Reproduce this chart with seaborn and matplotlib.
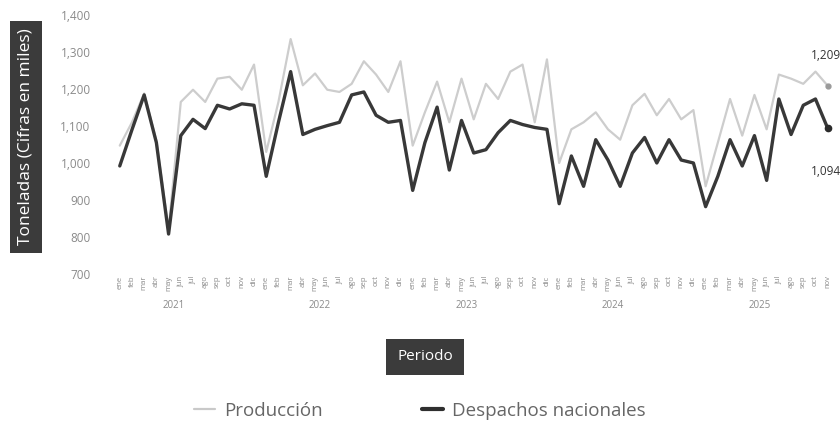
import matplotlib
matplotlib.use("Agg")
import matplotlib.pyplot as plt
import seaborn as sns
import pandas as pd

# Monthly data, Jan 2021 - Nov 2025 (miles de toneladas)
years = [2021, 2022, 2023, 2024, 2025]
month_abbr = ["ene", "feb", "mar", "abr", "may", "jun",
              "jul", "ago", "sep", "oct", "nov", "dic"]

produccion = [1047, 1110, 1188, 1060, 820, 1165, 1198, 1165, 1228, 1233, 1198, 1266,
              1030, 1165, 1335, 1210, 1242, 1198, 1192, 1214, 1275, 1239, 1192, 1275,
              1047, 1137, 1220, 1110, 1228, 1118, 1214, 1173, 1247, 1266, 1110, 1280,
              1000, 1091, 1110, 1137, 1091, 1063, 1156, 1187, 1129, 1173, 1118, 1143,
              937, 1055, 1173, 1074, 1184, 1091, 1239, 1228, 1214, 1247, 1209]

despachos = [992, 1090, 1184, 1055, 808, 1074, 1118, 1093, 1156, 1146, 1160, 1156,
             964, 1110, 1247, 1077, 1091, 1101, 1110, 1184, 1192, 1129, 1110, 1115,
             926, 1055, 1151, 981, 1115, 1027, 1036, 1082, 1115, 1104, 1096, 1091,
             890, 1019, 937, 1063, 1008, 937, 1027, 1069, 1000, 1063, 1008, 1000,
             882, 964, 1063, 992, 1074, 953, 1173, 1077, 1156, 1173, 1094]

n = len(produccion)
periodos = [month_abbr[i % 12] for i in range(n)]
df = pd.DataFrame({
    "idx": list(range(n)) * 2,
    "valor": produccion + despachos,
    "serie": ["Producción"] * n + ["Despachos nacionales"] * n,
})

sns.set_theme(style="white")
plt.rcParams["font.family"] = ["Open Sans", "DejaVu Sans"]

fig = plt.figure(figsize=(8.4, 4.24), dpi=100)
ax = fig.add_axes([110 / 840, 1 - 274 / 424, 725 / 840, 259 / 424])

palette = {"Producción": "#cdcdcd", "Despachos nacionales": "#383838"}
sizes = {"Producción": 1.6, "Despachos nacionales": 2.4}
sns.lineplot(data=df, x="idx", y="valor", hue="serie", size="serie",
             palette=palette, sizes=sizes, ax=ax, legend=False,
             solid_joinstyle="round", solid_capstyle="round")

# end points and labels
last = n - 1
ax.plot(last, produccion[-1], "o", color="#9a9a9a", ms=3.5, clip_on=False)
ax.plot(last, despachos[-1], "o", color="#2b2b2b", ms=4.5, clip_on=False)
ax.annotate(f"{produccion[-1]:,}", (last, produccion[-1]), xytext=(-1, 19),
            textcoords="offset points", fontsize=8.5, color="#333333",
            ha="center", annotation_clip=False)
ax.annotate(f"{despachos[-1]:,}", (last, despachos[-1]), xytext=(-1, -34),
            textcoords="offset points", fontsize=8.5, color="#333333",
            ha="center", annotation_clip=False)

ax.set_xlim(-0.8, 58.6)
ax.set_ylim(700, 1400)
ax.set_yticks(range(700, 1401, 100))
ax.set_yticklabels([f"{v:,}" for v in range(700, 1401, 100)],
                   fontsize=8.5, color="#8a8a8a")
ax.set_xticks(range(n))
ax.set_xticklabels(periodos, rotation=90, fontsize=5.5, color="#8a8a8a")
ax.tick_params(axis="x", length=0, pad=1)
ax.tick_params(axis="y", length=0, pad=14)
for s in ax.spines.values():
    s.set_visible(False)
ax.set_xlabel("")
ax.set_ylabel("")

# year labels under the month ticks
for k, yr in enumerate(years):
    ax.text(k * 12 + 4.4, -0.1, str(yr), transform=ax.get_xaxis_transform(),
            fontsize=7, color="#8a8a8a", ha="center", va="top")

# axis titles in dark boxes
fig.text(26 / 840, 1 - 137 / 424, "Toneladas (Cifras en miles)", rotation=90,
         ha="center", va="center", fontsize=12.5, color="white",
         bbox=dict(boxstyle="square,pad=0.45", fc="#3b3b3b", ec="none"))
fig.text(425 / 840, 1 - 357 / 424, "Periodo", ha="center", va="center",
         fontsize=11, color="white",
         bbox=dict(boxstyle="square,pad=0.7", fc="#3b3b3b", ec="none"))

# legend
handles = [plt.Line2D([], [], color="#c9c9c9", lw=1.6),
           plt.Line2D([], [], color="#2f2f2f", lw=3)]
fig.legend(handles, ["Producción", "Despachos nacionales"], loc="center",
           bbox_to_anchor=(420 / 840, 1 - 411 / 424), ncol=2, frameon=False,
           fontsize=13.5, labelcolor="#666666", columnspacing=5.3,
           handlelength=1.1, handletextpad=0.5)

plt.savefig("out.png", dpi=100)
